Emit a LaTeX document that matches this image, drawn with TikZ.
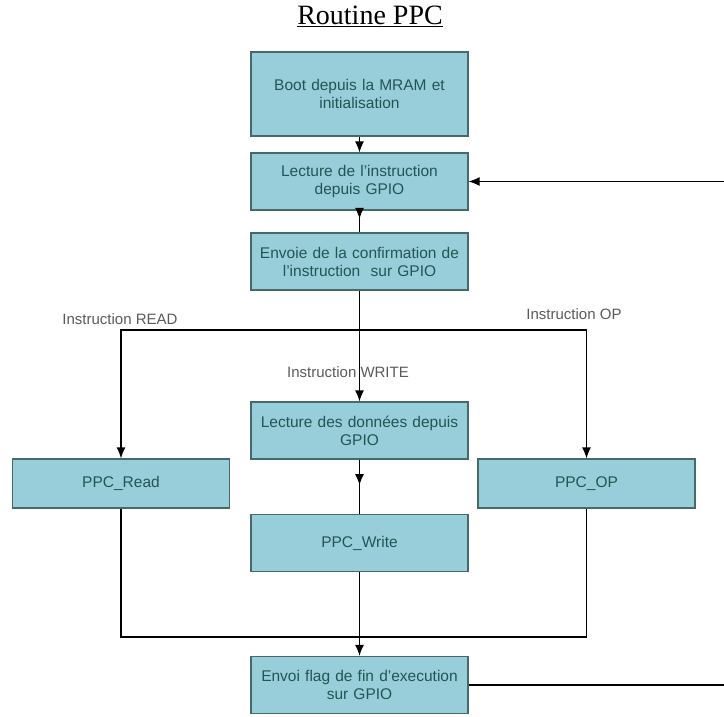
\documentclass[tikz,border=0pt]{standalone}
\usepackage{fontspec}
\setmainfont{Liberation Serif}
\setsansfont{Liberation Sans}
\usepackage{tikz}
\usetikzlibrary{shapes,arrows.meta,positioning,calc,decorations.markings}
\usepackage{xcolor}
\definecolor{blocfill}{RGB}{152,206,218}
\definecolor{blocdraw}{RGB}{70,105,105}
\definecolor{bloctext}{RGB}{35,85,85}
\definecolor{labelgray}{RGB}{90,90,90}
\tikzset{
    bloc/.style={rectangle, draw=blocdraw, fill=blocfill, line width=1.2pt, minimum width=217pt, minimum height=57pt, text width=210pt, align=center, inner sep=0pt, text=bloctext, font=\sffamily\fontsize{15.5}{18}\selectfont},
    blocS/.style={bloc, minimum height=49pt},
    blocL/.style={bloc, minimum height=84pt},
    lbl/.style={font=\sffamily\fontsize{15}{18}\selectfont, text=labelgray},
    flow/.style={line width=1.2pt, black},
    flowA/.style={flow, -{Latex[length=11pt,width=9pt]}},
    flowM/.style={flow, postaction={decorate}, decoration={markings, mark=at position #1 with {\arrow{Latex[length=11pt,width=9pt]}}}},
}
\begin{document}
\begin{tikzpicture}[x=1pt, y=-1pt]
    \useasboundingbox (0,0) rectangle (724,717);
    % Title
    \node[font=\fontsize{28}{30}\selectfont, anchor=base] (titre) at (370,25) {\underline{Routine PPC}};

    % Main column
    \node[blocL] (boot) at (359.5,94) {Boot depuis la MRAM et\\ initialisation};
    \node[bloc] (lect) at (359.5,181.5) {Lecture de l'instruction\\ depuis GPIO};
    \node[bloc] (conf) at (359.5,261.5) {Envoie de la confirmation de\\ l'instruction\ \ sur GPIO};
    \node[bloc] (donnees) at (359.5,430.5) {Lecture des données depuis\\ GPIO};
    \node[bloc] (write) at (359.5,543) {PPC\_Write};
    \node[bloc] (fin) at (359.5,685) {Envoi flag de fin d'execution\\ sur GPIO};

    % Side boxes
    \node[blocS] (read) at (121,483.5) {PPC\_Read};
    \node[blocS] (op) at (586.5,483.5) {PPC\_OP};

    % Branch labels
    \node[lbl] (lread) at (120,319) {Instruction READ};
    \node[lbl] (lwrite) at (348,372) {Instruction WRITE};
    \node[lbl] (lop) at (574,314) {Instruction OP};

    \coordinate (fork) at (359.5,330);
    \coordinate (join) at (359.5,637);
    \coordinate (retour) at (725.5,685);

    % Connections
    \draw[flowA] (boot) -- (lect);
    \draw[flowM=0.38] (lect) -- (conf);
    \draw[flowA] (conf) -- (donnees);
    \draw[flowA] (fork) -| (read);
    \draw[flowA] (fork) -| (op);
    \draw[flowM=0.47] (donnees) -- (write);
    \draw[flow] (read) |- (join);
    \draw[flow] (op) |- (join);
    \draw[flowA] (write) -- (fin);

    % Loop back
    \draw[flowA] (fin.east) -- (retour) |- (lect.east);
\end{tikzpicture}
\end{document}
